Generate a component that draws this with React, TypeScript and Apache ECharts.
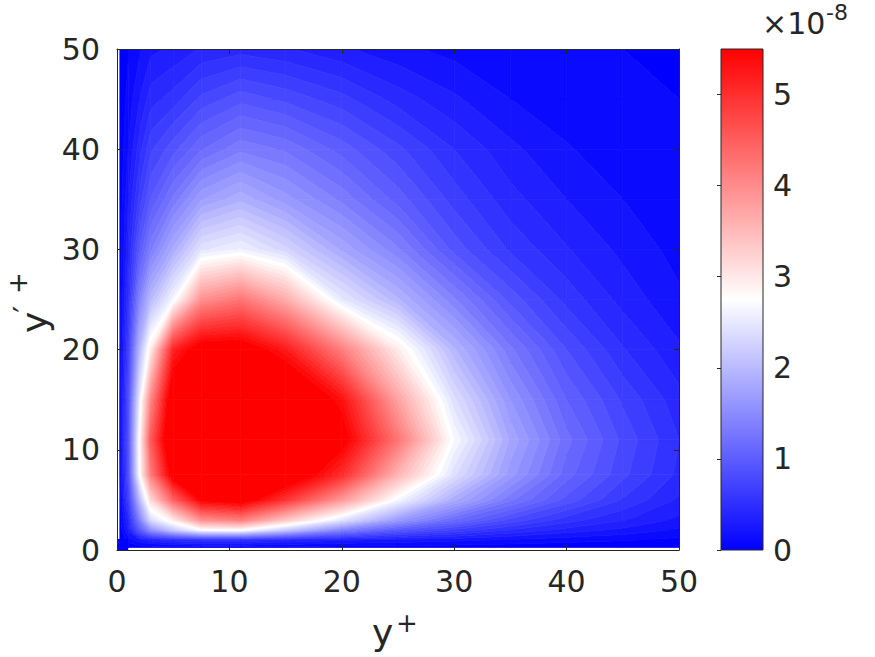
import React, { useEffect, useRef } from "react";
import * as echarts from "echarts";

// grid coordinates (y+ and y'+)
const xGrid = [0.25, 1, 2, 3, 5, 7.5, 11, 15, 20, 25, 30, 35, 40, 45, 50];
const yGrid = [0.25, 1, 2, 3, 5, 7.5, 11, 15, 20, 25, 30, 35, 40, 45, 50];

// field values (x 1e-8), one row per y'+ value, columns follow xGrid
const v_y0_25 = [0.02, 0.03, 0.04, 0.05, 0.06, 0.07, 0.07, 0.06, 0.05, 0.05, 0.04, 0.03, 0.03, 0.02, 0.02];
const v_y1 = [0.02, 0.15, 0.3, 0.4, 0.5, 0.55, 0.55, 0.45, 0.35, 0.3, 0.25, 0.2, 0.15, 0.12, 0.08];
const v_y2 = [0.03, 0.35, 1.0, 1.6, 2.2, 2.75, 2.8, 2.2, 1.45, 1.0, 0.75, 0.55, 0.4, 0.3, 0.2];
const v_y3 = [0.04, 0.45, 1.4, 2.4, 3.0, 4.0, 4.2, 3.4, 2.5, 1.7, 1.2, 0.85, 0.6, 0.45, 0.3];
const v_y5 = [0.05, 0.7, 2.0, 3.2, 4.5, 5.6, 5.8, 5.0, 3.9, 2.7, 1.9, 1.35, 0.95, 0.65, 0.42];
const v_y7_5 = [0.06, 0.85, 2.75, 4.2, 5.8, 6.3, 6.5, 6.0, 5.1, 3.6, 2.45, 1.7, 1.15, 0.8, 0.52];
const v_y11 = [0.07, 0.9, 2.8, 4.6, 6.2, 6.5, 6.7, 6.5, 5.7, 4.3, 2.75, 1.85, 1.25, 0.85, 0.55];
const v_y15 = [0.07, 0.85, 2.55, 4.1, 6.0, 6.3, 6.5, 6.2, 5.4, 3.8, 2.45, 1.65, 1.1, 0.75, 0.48];
const v_y20 = [0.06, 0.7, 2.0, 3.0, 5.2, 5.8, 5.8, 5.3, 4.2, 3.0, 2.0, 1.35, 0.88, 0.56, 0.35];
const v_y25 = [0.05, 0.55, 1.45, 2.05, 2.7, 4.0, 4.3, 3.7, 2.55, 2.0, 1.45, 0.95, 0.62, 0.4, 0.24];
const v_y30 = [0.04, 0.42, 1.0, 1.4, 1.9, 2.5, 2.65, 2.35, 1.85, 1.45, 0.95, 0.64, 0.45, 0.3, 0.18];
const v_y35 = [0.03, 0.32, 0.7, 1.0, 1.35, 1.75, 1.95, 1.7, 1.4, 1.05, 0.72, 0.48, 0.33, 0.22, 0.14];
const v_y40 = [0.03, 0.22, 0.5, 0.75, 0.95, 1.2, 1.4, 1.3, 1.05, 0.8, 0.55, 0.36, 0.23, 0.16, 0.12];
const v_y45 = [0.02, 0.15, 0.33, 0.5, 0.6, 0.8, 0.95, 0.85, 0.7, 0.5, 0.35, 0.22, 0.16, 0.13, 0.11];
const v_y50 = [0.02, 0.1, 0.2, 0.3, 0.35, 0.45, 0.5, 0.45, 0.35, 0.25, 0.18, 0.15, 0.12, 0.11, 0.1];

const fieldRows = [v_y0_25, v_y1, v_y2, v_y3, v_y5, v_y7_5, v_y11, v_y15, v_y20, v_y25, v_y30, v_y35, v_y40, v_y45, v_y50];

// wall patch in the corner: [x0, y0, x1, y1, value]
const cornerPatch = [0, 0, 1, 1.1, 0];

const colorLimits = [0, 5.5];
const colorTicks = [0, 1, 2, 3, 4, 5];
const nLevels = 50;

const TEXT = "#262626";
const FONT = "DejaVu Sans";

function cmap(v: number): string {
  let t = (v - colorLimits[0]) / (colorLimits[1] - colorLimits[0]);
  t = Math.max(0, Math.min(1, t));
  let r: number, g: number, b: number;
  if (t < 0.5) {
    r = g = Math.round(510 * t);
    b = 255;
  } else {
    r = 255;
    g = b = Math.round(510 * (1 - t));
  }
  return `rgb(${r},${g},${b})`;
}

type P = { x: number; y: number; v: number };

function clip(poly: P[], level: number, above: boolean): P[] {
  const out: P[] = [];
  const n = poly.length;
  for (let i = 0; i < n; i++) {
    const c = poly[i];
    const d = poly[(i + 1) % n];
    const fc = above ? c.v - level : level - c.v;
    const fd = above ? d.v - level : level - d.v;
    if (fc >= 0) out.push(c);
    if (fc >= 0 !== fd >= 0) {
      const t = fc / (fc - fd);
      out.push({ x: c.x + t * (d.x - c.x), y: c.y + t * (d.y - c.y), v: level });
    }
  }
  return out;
}

export default function App() {
  const ref = useRef<HTMLDivElement>(null);

  useEffect(() => {
    document.body.style.margin = "0";
    if (!ref.current) return;
    const chart = echarts.init(ref.current, undefined, { renderer: "svg" });

    const step = (colorLimits[1] - colorLimits[0]) / nLevels;
    const bandOf = (v: number) => Math.max(0, Math.min(nLevels, Math.floor((v - colorLimits[0]) / step)));

    const cells: number[][] = [];
    for (let j = 0; j < yGrid.length - 1; j++) {
      for (let i = 0; i < xGrid.length - 1; i++) {
        cells.push([
          xGrid[i], yGrid[j], xGrid[i + 1], yGrid[j + 1],
          fieldRows[j][i], fieldRows[j][i + 1], fieldRows[j + 1][i], fieldRows[j + 1][i + 1],
        ]);
      }
    }

    const renderCell = (params: any, api: any) => {
      const x0 = api.value(0), y0 = api.value(1), x1 = api.value(2), y1 = api.value(3);
      const v00 = api.value(4), v10 = api.value(5), v01 = api.value(6), v11 = api.value(7);
      const quad: P[] = [
        { x: x0, y: y0, v: v00 },
        { x: x1, y: y0, v: v10 },
        { x: x1, y: y1, v: v11 },
        { x: x0, y: y1, v: v01 },
      ];
      const children: any[] = [];
      const ks = quad.map((p) => bandOf(p.v));
      const kLo = Math.min(...ks), kHi = Math.max(...ks);
      for (let k = kLo; k <= kHi; k++) {
        let poly: P[] = quad;
        if (k > 0) poly = clip(poly, colorLimits[0] + k * step, true);
        if (poly.length >= 3 && k < nLevels) poly = clip(poly, colorLimits[0] + (k + 1) * step, false);
        if (poly.length < 3) continue;
        const pts = poly.map((p) => api.coord([p.x, p.y]));
        const col = cmap(colorLimits[0] + k * step);
        children.push({
          type: "polygon",
          shape: { points: pts },
          style: { fill: col, stroke: col, lineWidth: 0.7 },
        });
      }
      return { type: "group", children };
    };

    const baseAxis = {
      type: "value",
      min: 0,
      max: 50,
      interval: 10,
      z: 10,
      splitLine: { show: false },
      axisLine: { show: true, onZero: false, lineStyle: { color: TEXT, width: 1 } },
      axisTick: { show: true, inside: true, length: 5, lineStyle: { color: TEXT, width: 1 } },
    };

    const option: any = {
      animation: false,
      textStyle: { fontFamily: FONT },
      grid: [
        { left: 117, top: 49, width: 562, height: 501, containLabel: false },
        { left: 721, top: 49, width: 42, height: 501, containLabel: false },
      ],
      xAxis: [
        {
          ...baseAxis,
          gridIndex: 0,
          position: "bottom",
          axisLabel: { show: true, color: TEXT, fontSize: 30, fontFamily: FONT, margin: 16 },
        },
        { ...baseAxis, gridIndex: 0, position: "top", axisLabel: { show: false } },
        { type: "value", gridIndex: 1, min: 0, max: 1, show: false },
      ],
      yAxis: [
        {
          ...baseAxis,
          gridIndex: 0,
          position: "left",
          axisLabel: { show: true, color: TEXT, fontSize: 30, fontFamily: FONT, margin: 17 },
        },
        { ...baseAxis, gridIndex: 0, position: "right", axisLabel: { show: false } },
        {
          type: "value",
          gridIndex: 1,
          position: "right",
          min: colorLimits[0],
          max: colorLimits[1],
          interval: 1,
          z: 10,
          splitLine: { show: false },
          axisLine: { show: false },
          axisTick: { show: true, inside: true, length: 4, lineStyle: { color: TEXT, width: 1 } },
          axisLabel: {
            show: true,
            color: TEXT,
            fontSize: 30,
            fontFamily: FONT,
            margin: 10,
            showMaxLabel: false,
            formatter: (v: number) => (colorTicks.indexOf(v) >= 0 ? String(v) : ""),
          },
        },
      ],
      series: [
        {
          type: "custom",
          xAxisIndex: 0,
          yAxisIndex: 0,
          clip: true,
          renderItem: renderCell,
          encode: { x: [0, 2], y: [1, 3] },
          data: cells,
          z: 2,
        },
        {
          type: "custom",
          xAxisIndex: 0,
          yAxisIndex: 0,
          clip: true,
          encode: { x: [0, 2], y: [1, 3] },
          data: [cornerPatch],
          z: 3,
          renderItem: (params: any, api: any) => {
            const p0 = api.coord([api.value(0), api.value(3)]);
            const p1 = api.coord([api.value(2), api.value(1)]);
            const col = cmap(api.value(4));
            return {
              type: "rect",
              shape: { x: p0[0], y: p0[1], width: p1[0] - p0[0], height: p1[1] - p0[1] },
              style: { fill: col },
            };
          },
        },
        {
          type: "custom",
          xAxisIndex: 2,
          yAxisIndex: 2,
          encode: { x: [0, 2], y: [1, 3] },
          data: [[0, colorLimits[0], 1, colorLimits[1]]],
          z: 2,
          renderItem: (params: any, api: any) => {
            const p0 = api.coord([api.value(0), api.value(3)]);
            const p1 = api.coord([api.value(2), api.value(1)]);
            return {
              type: "rect",
              shape: { x: p0[0], y: p0[1], width: p1[0] - p0[0], height: p1[1] - p0[1] },
              style: {
                fill: new echarts.graphic.LinearGradient(0, 0, 0, 1, [
                  { offset: 0, color: cmap(colorLimits[1]) },
                  { offset: 0.5, color: cmap((colorLimits[0] + colorLimits[1]) / 2) },
                  { offset: 1, color: cmap(colorLimits[0]) },
                ]),
                stroke: TEXT,
                lineWidth: 1,
              },
            };
          },
        },
      ],
      graphic: [
        {
          type: "text",
          left: 762,
          top: 8,
          style: { text: "×10", fill: TEXT, font: `30px "${FONT}"` },
        },
        {
          type: "text",
          left: 826,
          top: 1,
          style: { text: "-8", fill: TEXT, font: `22px "${FONT}"` },
        },
        {
          type: "text",
          x: 372,
          y: 632,
          style: { text: "y", fill: TEXT, font: `36px "${FONT}"`, align: "left", verticalAlign: "middle" },
        },
        {
          type: "text",
          x: 407,
          y: 623,
          style: { text: "+", fill: TEXT, font: `26px "${FONT}"`, align: "center", verticalAlign: "middle" },
        },
        {
          type: "group",
          x: 40,
          y: 300,
          rotation: Math.PI / 2,
          children: [
            {
              type: "text",
              x: -33,
              y: -6,
              style: { text: "y", fill: TEXT, font: `36px "${FONT}"`, align: "left", verticalAlign: "middle" },
            },
            {
              type: "text",
              x: -9,
              y: -16,
              style: { text: "′", fill: TEXT, font: `30px "${FONT}"`, align: "center", verticalAlign: "middle" },
            },
            {
              type: "text",
              x: 17,
              y: -22,
              style: { text: "+", fill: TEXT, font: `26px "${FONT}"`, align: "center", verticalAlign: "middle" },
            },
          ],
        },
      ],
    };

    chart.setOption(option);
    return () => chart.dispose();
  }, []);

  return <div ref={ref} style={{ width: 875, height: 657 }} />;
}
